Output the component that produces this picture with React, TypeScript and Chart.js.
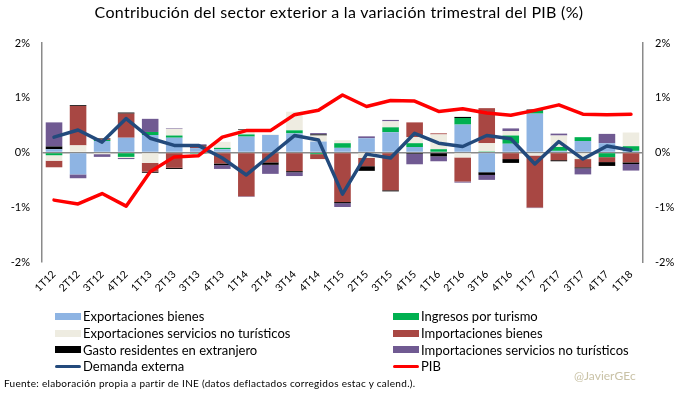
import React, { useEffect, useRef } from 'react';
import Chart from 'chart.js/auto';

const labels = ['1T12','2T12','3T12','4T12','1T13','2T13','3T13','4T13','1T14','2T14','3T14','4T14','1T15','2T15','3T15','4T15','1T16','2T16','3T16','4T16','1T17','2T17','3T17','4T17','1T18'];

const expBienes = [0.06,-0.40,0.21,0.27,0.32,0.27,0.08,0.06,0.29,0.32,0.35,0.20,0.085,0.26,0.37,0.10,0.0,0.51,-0.36,0.16,0.71,0.03,0.21,0.17,0.03];
const turismo = [-0.05,0.0,0.02,-0.08,0.055,0.04,-0.02,0.025,0.04,0.0,0.055,-0.03,0.085,0.0,0.09,0.07,0.06,0.12,0.02,0.15,0.055,0.07,0.07,-0.085,0.085];
const expServicios = [-0.10,0.13,-0.03,-0.02,-0.19,0.12,0.0,0.11,0.08,0.01,0.34,0.11,0.055,-0.10,0.11,0.11,0.27,-0.09,0.15,0.08,-0.055,0.21,-0.12,0.0,0.25];
const impBienes = [-0.12,0.72,0.02,0.44,-0.16,-0.28,0.04,-0.20,-0.80,-0.18,-0.34,-0.09,-0.905,-0.15,-0.69,0.27,0.02,-0.44,0.64,-0.12,-0.95,-0.14,-0.15,-0.09,-0.18];
const gastoResidentes = [0.05,0.015,0.01,0.02,-0.02,-0.02,0.01,-0.03,0.012,-0.045,-0.02,0.02,-0.02,-0.085,-0.02,-0.025,-0.07,0.02,-0.05,-0.07,0.02,-0.02,-0.02,-0.07,-0.03];
const impServicios = [0.44,-0.07,-0.05,-0.02,0.24,0.01,0.02,-0.07,-0.01,-0.165,-0.07,0.025,-0.07,0.035,0.025,-0.19,-0.09,-0.02,-0.09,0.05,-0.01,0.035,-0.11,0.17,-0.12];
const demandaExterna = [0.28,0.41,0.19,0.62,0.26,0.13,0.13,-0.10,-0.41,-0.05,0.31,0.23,-0.76,-0.03,-0.10,0.35,0.17,0.11,0.31,0.25,-0.21,0.20,-0.12,0.12,0.04];
const pib = [-0.87,-0.94,-0.75,-0.98,-0.35,-0.08,-0.06,0.28,0.40,0.40,0.69,0.77,1.05,0.84,0.95,0.94,0.75,0.80,0.72,0.68,0.77,0.87,0.70,0.69,0.70];

const yTicks = [-2, -1, 0, 1, 2];

const FONT = 'Lato, "Open Sans", sans-serif';
const AXIS_GRAY = '#8a8a8a';

const barSeries = [
  { label: 'Exportaciones bienes', data: expBienes, color: '#8EB4E3' },
  { label: 'Ingresos por turismo', data: turismo, color: '#00B050' },
  { label: 'Exportaciones servicios no turísticos', data: expServicios, color: '#EEECE1' },
  { label: 'Importaciones bienes', data: impBienes, color: '#A84743' },
  { label: 'Gasto residentes en extranjero', data: gastoResidentes, color: '#000000' },
  { label: 'Importaciones servicios no turísticos', data: impServicios, color: '#705A92' },
];
const lineSeries = [
  { label: 'Demanda externa', data: demandaExterna, color: '#234A7C' },
  { label: 'PIB', data: pib, color: '#FF0000' },
];

export default function App() {
  const ref = useRef<HTMLCanvasElement | null>(null);

  useEffect(() => {
    if (!ref.current) return;
    const datasets: any[] = [
      ...barSeries.map((s) => ({
        type: 'bar',
        label: s.label,
        data: s.data,
        backgroundColor: s.color,
        borderWidth: 0,
        yAxisID: 'y',
        order: 2,
        barPercentage: 0.69,
        categoryPercentage: 1,
      })),
      ...lineSeries.map((s, i) => ({
        type: 'line',
        label: s.label,
        data: s.data,
        borderColor: s.color,
        backgroundColor: s.color,
        borderWidth: 3.5,
        pointRadius: 0,
        tension: 0,
        borderJoinStyle: 'round',
        borderCapStyle: 'round',
        yAxisID: 'y2',
        stack: 'line' + i,
        order: 1 - i,
      })),
    ];

    const chart = new Chart(ref.current, {
      type: 'bar',
      data: { labels, datasets },
      options: {
        responsive: false,
        animation: false,
        devicePixelRatio: 1,
        layout: { padding: { top: 43, left: 0, right: 0, bottom: 0 } },
        plugins: { legend: { display: false }, title: { display: false }, tooltip: { enabled: false } },
        scales: {
          x: {
            stacked: true,
            grid: { display: false, drawTicks: false },
            border: { display: false },
            ticks: {
              maxRotation: 45,
              minRotation: 45,
              autoSkip: false,
              padding: 6,
              color: '#000',
              font: { family: FONT, size: 10.5 },
            },
            afterFit: (scale: any) => { scale.height = 133; },
          },
          y: {
            position: 'left',
            stacked: true,
            min: yTicks[0],
            max: yTicks[yTicks.length - 1],
            afterBuildTicks: (scale: any) => { scale.ticks = yTicks.map((v) => ({ value: v })); },
            ticks: {
              padding: 12,
              color: '#000',
              font: { family: FONT, size: 11 },
              callback: (v: any) => v + '%',
            },
            grid: {
              drawTicks: false,
              color: (ctx: any) => (ctx.tick && ctx.tick.value === 0 ? AXIS_GRAY : 'rgba(0,0,0,0)'),
              lineWidth: 1.5,
            },
            border: { display: true, color: AXIS_GRAY, width: 1.5 },
            afterFit: (scale: any) => { scale.width = 42; },
          },
          y2: {
            position: 'right',
            stacked: false,
            min: yTicks[0],
            max: yTicks[yTicks.length - 1],
            afterBuildTicks: (scale: any) => { scale.ticks = yTicks.map((v) => ({ value: v })); },
            ticks: {
              padding: 12,
              color: '#000',
              font: { family: FONT, size: 11 },
              callback: (v: any) => v + '%',
            },
            grid: { display: false, drawTicks: false },
            border: { display: true, color: AXIS_GRAY, width: 1.5 },
            afterFit: (scale: any) => { scale.width = 35; },
          },
        },
      } as any,
    });
    return () => chart.destroy();
  }, []);

  const legendItems = [
    { ...barSeries[0], kind: 'box', col: 0, row: 0 },
    { ...barSeries[1], kind: 'box', col: 1, row: 0 },
    { ...barSeries[2], kind: 'box', col: 0, row: 1 },
    { ...barSeries[3], kind: 'box', col: 1, row: 1 },
    { ...barSeries[4], kind: 'box', col: 0, row: 2 },
    { ...barSeries[5], kind: 'box', col: 1, row: 2 },
    { ...lineSeries[0], kind: 'line', col: 0, row: 3 },
    { ...lineSeries[1], kind: 'line', col: 1, row: 3 },
  ];
  const colX = [55, 393];
  const rowY = [316, 333, 349.5, 366];

  return (
    <div style={{ position: 'fixed', left: 0, top: 0, width: 678, height: 395, background: '#fff', fontFamily: FONT, overflow: 'hidden' }}>
      <canvas ref={ref} width={678} height={395} style={{ position: 'absolute', left: 0, top: 0, width: 678, height: 395 }} />
      <div style={{ position: 'absolute', left: 0, width: 678, top: 2, textAlign: 'center', fontSize: 16, letterSpacing: 0.3, color: '#000', lineHeight: '19px' }}>
        Contribución del sector exterior a la variación trimestral del PIB (%)
      </div>
      {legendItems.map((it, i) => (
        <div key={i} style={{ position: 'absolute', left: colX[it.col], top: rowY[it.row] - 8, height: 16, display: 'flex', alignItems: 'center', whiteSpace: 'nowrap' }}>
          <span style={{ display: 'inline-block', width: 26, height: it.kind === 'box' ? 7 : 3, background: it.color, marginRight: 2, borderRadius: it.kind === 'line' ? 2 : 0 }} />
          <span style={{ fontSize: 13, color: '#000', lineHeight: '16px' }}>{it.label}</span>
        </div>
      ))}
      <div style={{ position: 'absolute', left: 4, top: 377, fontSize: 10, letterSpacing: 0.3, color: '#000', whiteSpace: 'nowrap', lineHeight: '12px' }}>
        Fuente: elaboración propia a partir de INE (datos deflactados corregidos estac y calend.).
      </div>
      <div style={{ position: 'absolute', left: 574, top: 369, fontSize: 12, color: '#C9C2A6', whiteSpace: 'nowrap', lineHeight: '14px' }}>
        @JavierGEc
      </div>
    </div>
  );
}
